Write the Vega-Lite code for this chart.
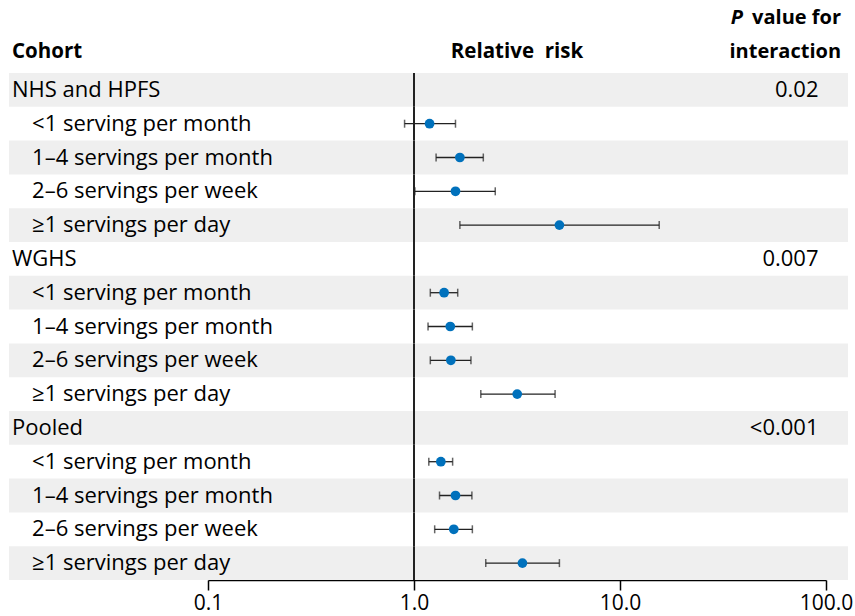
{
  "$schema": "https://vega.github.io/schema/vega-lite/v6.json",
  "width": 618,
  "height": 574.6,
  "autosize": {"type": "none"},
  "padding": {"left": 208, "right": 29, "top": 5.4, "bottom": 36},
  "background": "white",
  "config": {"view": {"stroke": null}, "font": "Open Sans", "text": {"font": "Open Sans"}},
  "datasets": {
    "rows": [
      {"row": 0, "label": "NHS and HPFS", "level": "cohort", "p": "0.02"},
      {"row": 1, "label": "<1 serving per month", "level": "sub", "rr": 1.19, "lo": 0.90, "hi": 1.59},
      {"row": 2, "label": "1–4 servings per month", "level": "sub", "rr": 1.67, "lo": 1.28, "hi": 2.17},
      {"row": 3, "label": "2–6 servings per week", "level": "sub", "rr": 1.59, "lo": 1.01, "hi": 2.48},
      {"row": 4, "label": "≥1 servings per day", "level": "sub", "rr": 5.08, "lo": 1.67, "hi": 15.5},
      {"row": 5, "label": "WGHS", "level": "cohort", "p": "0.007"},
      {"row": 6, "label": "<1 serving per month", "level": "sub", "rr": 1.40, "lo": 1.20, "hi": 1.63},
      {"row": 7, "label": "1–4 servings per month", "level": "sub", "rr": 1.50, "lo": 1.17, "hi": 1.92},
      {"row": 8, "label": "2–6 servings per week", "level": "sub", "rr": 1.51, "lo": 1.20, "hi": 1.89},
      {"row": 9, "label": "≥1 servings per day", "level": "sub", "rr": 3.17, "lo": 2.11, "hi": 4.84},
      {"row": 10, "label": "Pooled", "level": "cohort", "p": "<0.001"},
      {"row": 11, "label": "<1 serving per month", "level": "sub", "rr": 1.35, "lo": 1.18, "hi": 1.54},
      {"row": 12, "label": "1–4 servings per month", "level": "sub", "rr": 1.59, "lo": 1.33, "hi": 1.91},
      {"row": 13, "label": "2–6 servings per week", "level": "sub", "rr": 1.56, "lo": 1.26, "hi": 1.92},
      {"row": 14, "label": "≥1 servings per day", "level": "sub", "rr": 3.36, "lo": 2.23, "hi": 5.08}
    ]
  },
  "encoding": {
    "y": {
      "field": "row",
      "type": "ordinal",
      "scale": {"type": "band", "domain": [-2, -1, 0, 1, 2, 3, 4, 5, 6, 7, 8, 9, 10, 11, 12, 13, 14], "paddingInner": 0, "paddingOuter": 0},
      "axis": null
    }
  },
  "layer": [
    {
      "data": {"name": "rows"},
      "transform": [{"filter": "datum.row % 2 == 0"}],
      "mark": {"type": "rect", "color": "#efefef"},
      "encoding": {
        "x": {
          "datum": 0.01081,
          "type": "quantitative",
          "scale": {"type": "log", "domain": [0.1, 100], "nice": false},
          "axis": {
            "values": [0.1, 1, 10, 100],
            "format": ".1f",
            "title": null,
            "grid": false,
            "labelFontSize": 21,
            "labelColor": "black",
            "labelFont": "Open Sans",
            "labelFlush": false,
            "labelOverlap": false,
            "labelPadding": 2,
            "tickSize": 10,
            "tickWidth": 1.5,
            "tickColor": "black",
            "domainColor": "black",
            "domainWidth": 1.5,
            "offset": 0
          }
        },
        "x2": {"datum": 127.9}
      }
    },
    {
      "data": {"name": "rows"},
      "mark": {"type": "rect", "fill": null, "stroke": "#222222", "strokeWidth": 2},
      "encoding": {
        "x": {"datum": 1, "type": "quantitative"},
        "x2": {"datum": 1}
      }
    },
    {
      "data": {"name": "rows"},
      "transform": [{"filter": "isValid(datum.rr)"}],
      "mark": {"type": "rule", "color": "#222222", "strokeWidth": 1.3},
      "encoding": {
        "x": {"field": "lo", "type": "quantitative"},
        "x2": {"field": "hi"}
      }
    },
    {
      "data": {"name": "rows"},
      "transform": [{"filter": "isValid(datum.rr)"}],
      "mark": {"type": "tick", "color": "#222222", "size": 8, "thickness": 1.5, "orient": "vertical"},
      "encoding": {
        "x": {"field": "lo", "type": "quantitative"}
      }
    },
    {
      "data": {"name": "rows"},
      "transform": [{"filter": "isValid(datum.rr)"}],
      "mark": {"type": "tick", "color": "#222222", "size": 8, "thickness": 1.5, "orient": "vertical"},
      "encoding": {
        "x": {"field": "hi", "type": "quantitative"}
      }
    },
    {
      "data": {"name": "rows"},
      "transform": [{"filter": "isValid(datum.rr)"}],
      "mark": {"type": "circle", "color": "#0071bc", "size": 95, "opacity": 1},
      "encoding": {
        "x": {"field": "rr", "type": "quantitative"}
      }
    },
    {
      "data": {"name": "rows"},
      "transform": [{"filter": "datum.level == 'cohort'"}],
      "mark": {"type": "text", "align": "left", "baseline": "middle", "fontSize": 22, "color": "black"},
      "encoding": {
        "x": {"datum": 0.01118, "type": "quantitative"},
        "text": {"field": "label"}
      }
    },
    {
      "data": {"name": "rows"},
      "transform": [{"filter": "datum.level == 'sub'"}],
      "mark": {"type": "text", "align": "left", "baseline": "middle", "fontSize": 22, "color": "black"},
      "encoding": {
        "x": {"datum": 0.0140, "type": "quantitative"},
        "text": {"field": "label"}
      }
    },
    {
      "data": {"name": "rows"},
      "transform": [{"filter": "isValid(datum.p)"}],
      "mark": {"type": "text", "align": "right", "baseline": "middle", "fontSize": 22, "color": "black"},
      "encoding": {
        "x": {"datum": 92, "type": "quantitative"},
        "text": {"field": "p"}
      }
    },
    {
      "data": {"values": [{"row": -1, "t": "Cohort"}]},
      "mark": {"type": "text", "align": "left", "baseline": "middle", "fontSize": 20.5, "fontWeight": "bold", "color": "black", "dy": -4},
      "encoding": {
        "x": {"datum": 0.01118, "type": "quantitative"},
        "text": {"field": "t"}
      }
    },
    {
      "data": {"values": [{"row": -1, "t": "Relative\u00a0 risk"}]},
      "mark": {"type": "text", "align": "center", "baseline": "middle", "fontSize": 20.5, "fontWeight": "bold", "color": "black", "dy": -4},
      "encoding": {
        "x": {"datum": 3.162, "type": "quantitative"},
        "text": {"field": "t"}
      }
    },
    {
      "data": {"values": [{"row": -1, "t": "interaction"}, {"row": -2, "t": "value for"}]},
      "mark": {"type": "text", "align": "right", "baseline": "middle", "fontSize": 20, "fontWeight": "bold", "color": "black", "dy": -4},
      "encoding": {
        "x": {"datum": 118.3, "type": "quantitative"},
        "text": {"field": "t"}
      }
    },
    {
      "data": {"values": [{"row": -2, "t": "P"}]},
      "mark": {"type": "text", "align": "left", "baseline": "middle", "fontSize": 20, "fontWeight": "bold", "fontStyle": "italic", "color": "black", "dy": -4},
      "encoding": {
        "x": {"datum": 34.5, "type": "quantitative"},
        "text": {"field": "t"}
      }
    }
  ]
}
